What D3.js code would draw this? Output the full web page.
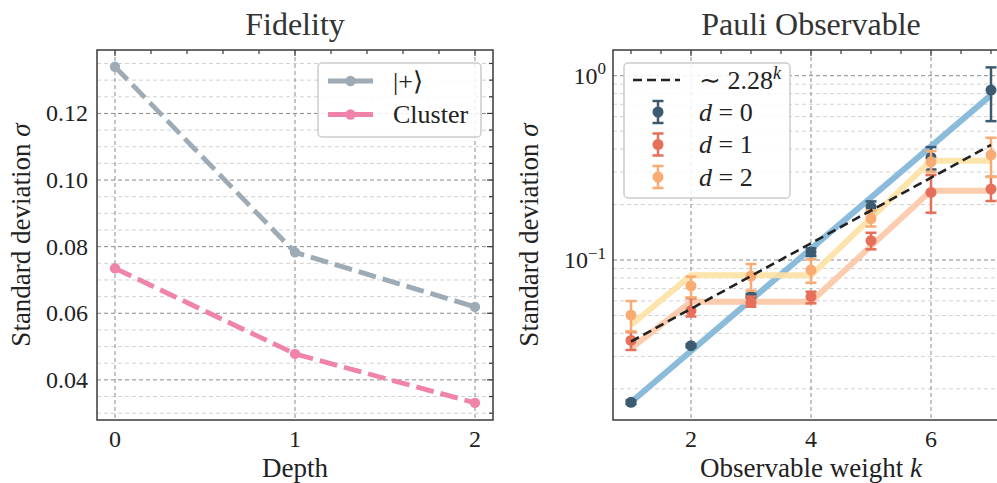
<!DOCTYPE html>
<html>
<head>
<meta charset="utf-8">
<script src="https://cdn.jsdelivr.net/npm/d3@7"></script>
<style>
  body { margin: 0; background: #fff; }
  svg { display: block; font-family: "Liberation Serif", serif; }
</style>
</head>
<body>
<script>
// --- data ---
var depths = [0, 1, 2];
var fidPlus = [0.134, 0.0783, 0.0619];
var fidCluster = [0.0735, 0.0478, 0.0331];
var fidTicks = [0.04, 0.06, 0.08, 0.10, 0.12];

var weights = [1, 2, 3, 4, 5, 6, 7];
var sigmaD0 = [0.0169, 0.0343, 0.0633, 0.1105, 0.194, 0.36, 0.836];
var lowD0 = [0.0165, 0.0337, 0.0612, 0.1051, 0.181, 0.31, 0.567];
var highD0 = [0.0173, 0.0349, 0.0655, 0.1157, 0.208, 0.41, 1.11];
var sigmaD1 = [0.0366, 0.0531, 0.0589, 0.0633, 0.1273, 0.2328, 0.2428];
var lowD1 = [0.0325, 0.0494, 0.0558, 0.0582, 0.1143, 0.1806, 0.209];
var highD1 = [0.0407, 0.062, 0.0633, 0.0673, 0.1406, 0.289, 0.283];
var sigmaD2 = [0.0503, 0.0723, 0.0819, 0.0882, 0.168, 0.341, 0.3715];
var lowD2 = [0.041, 0.0627, 0.0682, 0.0753, 0.152, 0.30, 0.2822];
var highD2 = [0.0599, 0.0812, 0.0951, 0.1009, 0.186, 0.39, 0.4607];
var stepD1 = [0.0332, 0.0594, 0.0594, 0.0594, 0.119, 0.2375, 0.2375];
var stepD2 = [0.0444, 0.0826, 0.0826, 0.0826, 0.169, 0.346, 0.346];
var fitK = [1, 7];
var fitD0 = [0.0169, 0.785];
var scalingFit = [0.0361, 0.421];
var weightTicks = [2, 4, 6];

var W = 997, H = 483;
var svg = d3.select('body').append('svg')
  .attr('width', W).attr('height', H);

var spineCol = '#3a3a3a';
var majorGrid = '#8a8a8a';
var minorGrid = '#d2d2d2';

function zip(xs, ys) { return xs.map((x, i) => [x, ys[i]]); }

// ================= left panel: Fidelity =================
var L = { left: 97, right: 493, top: 50, bottom: 420 };
var xL = d3.scaleLinear().domain([-0.1, 2.1]).range([L.left, L.right]);
var yL = d3.scaleLinear().domain([0.02795, 0.13905]).range([L.bottom, L.top]);

var gL = svg.append('g');
var minorL = d3.range(0.03, 0.1391, 0.005).filter(v => !fidTicks.some(t => Math.abs(t - v) < 1e-6));

gL.selectAll('.minor').data(minorL).enter().append('line')
  .attr('x1', L.left).attr('x2', L.right)
  .attr('y1', d => yL(d)).attr('y2', d => yL(d))
  .attr('stroke', minorGrid).attr('stroke-width', 1).attr('stroke-dasharray', '4,3');
gL.selectAll('.major').data(fidTicks).enter().append('line')
  .attr('x1', L.left).attr('x2', L.right)
  .attr('y1', d => yL(d)).attr('y2', d => yL(d))
  .attr('stroke', majorGrid).attr('stroke-width', 1).attr('stroke-dasharray', '4,3');
gL.selectAll('.vgrid').data(depths).enter().append('line')
  .attr('x1', d => xL(d)).attr('x2', d => xL(d))
  .attr('y1', L.top).attr('y2', L.bottom)
  .attr('stroke', majorGrid).attr('stroke-width', 1).attr('stroke-dasharray', '4,3');

// inward ticks top and right
gL.selectAll('.ttick').data(d3.range(0, 2.01, 0.2)).enter().append('line')
  .attr('x1', d => xL(d)).attr('x2', d => xL(d))
  .attr('y1', L.top).attr('y2', (d, i) => L.top + (i % 5 === 0 ? 6 : 4))
  .attr('stroke', spineCol).attr('stroke-width', 1.2);
gL.selectAll('.rtick').data(fidTicks.concat(minorL)).enter().append('line')
  .attr('y1', d => yL(d)).attr('y2', d => yL(d))
  .attr('x1', L.right).attr('x2', d => L.right - (fidTicks.indexOf(d) >= 0 ? 6 : 4))
  .attr('stroke', spineCol).attr('stroke-width', 1.2);

var lineL = d3.line().x(d => xL(d[0])).y(d => yL(d[1]));
var fidSeries = [
  { name: '|+\u27E9', vals: fidPlus, color: '#9eabb4' },
  { name: 'Cluster', vals: fidCluster, color: '#f083a9' }
];
fidSeries.forEach(s => {
  var pts = zip(depths, s.vals);
  gL.append('path').datum(pts).attr('d', lineL)
    .attr('fill', 'none').attr('stroke', s.color).attr('stroke-width', 4.8)
    .attr('stroke-dasharray', '18,7');
  gL.selectAll(null).data(pts).enter().append('circle')
    .attr('cx', d => xL(d[0])).attr('cy', d => yL(d[1])).attr('r', 5.2)
    .attr('fill', s.color);
});

gL.append('rect').attr('x', L.left).attr('y', L.top)
  .attr('width', L.right - L.left).attr('height', L.bottom - L.top)
  .attr('fill', 'none').attr('stroke', spineCol).attr('stroke-width', 1.5);

gL.selectAll('.ylab').data(fidTicks).enter().append('text')
  .attr('x', 88).attr('y', d => yL(d)).attr('dy', '0.33em')
  .attr('text-anchor', 'end').attr('font-size', 24).attr('fill', '#222')
  .text(d => d3.format('.2f')(d));
gL.selectAll('.xlab').data(depths).enter().append('text')
  .attr('x', d => xL(d)).attr('y', 447)
  .attr('text-anchor', 'middle').attr('font-size', 24).attr('fill', '#222')
  .text(d => d);

svg.append('text').attr('x', (L.left + L.right) / 2).attr('y', 35)
  .attr('text-anchor', 'middle').attr('font-size', 32).attr('fill', '#333').text('Fidelity');
svg.append('text').attr('x', (L.left + L.right) / 2).attr('y', 477)
  .attr('text-anchor', 'middle').attr('font-size', 27).attr('fill', '#222').text('Depth');
var yt = svg.append('text').attr('transform', 'translate(30,235) rotate(-90)')
  .attr('text-anchor', 'middle').attr('font-size', 27).attr('fill', '#222');
yt.append('tspan').text('Standard deviation ');
yt.append('tspan').attr('font-style', 'italic').text('\u03C3');

// legend left
var legL = gL.append('g');
legL.append('rect').attr('x', 318).attr('y', 63).attr('width', 163).attr('height', 74)
  .attr('rx', 4).attr('fill', 'rgba(255,255,255,0.85)').attr('stroke', '#cccccc').attr('stroke-width', 1.5);
fidSeries.forEach((s, i) => {
  var yy = 81 + i * 33.5;
  legL.append('line').attr('x1', 328).attr('x2', 373).attr('y1', yy).attr('y2', yy)
    .attr('stroke', s.color).attr('stroke-width', 4.8);
  legL.append('circle').attr('cx', 350.5).attr('cy', yy).attr('r', 5.2).attr('fill', s.color);
  legL.append('text').attr('x', 393).attr('y', yy).attr('dy', '0.33em')
    .attr('font-size', 26).attr('fill', '#222').text(s.name);
});

// ================= right panel: Pauli Observable =================
var R = { left: 613, right: 1009, top: 50, bottom: 420 };
var xR = d3.scaleLinear().domain([0.7, 7.3]).range([R.left, R.right]);
var yR = d3.scaleLog().domain([0.01355, 1.379]).range([R.bottom, R.top]);

var gR = svg.append('g');
var majorR = [0.1, 1];
var minorR = [];
[0.01, 0.1].forEach(b => { for (var m = 2; m <= 9; m++) minorR.push(b * m); });
minorR = minorR.filter(v => v > 0.01355 && v < 1.379);

gR.selectAll('.minor').data(minorR).enter().append('line')
  .attr('x1', R.left).attr('x2', R.right)
  .attr('y1', d => yR(d)).attr('y2', d => yR(d))
  .attr('stroke', minorGrid).attr('stroke-width', 1).attr('stroke-dasharray', '4,3');
gR.selectAll('.major').data(majorR).enter().append('line')
  .attr('x1', R.left).attr('x2', R.right)
  .attr('y1', d => yR(d)).attr('y2', d => yR(d))
  .attr('stroke', majorGrid).attr('stroke-width', 1).attr('stroke-dasharray', '4,3');
gR.selectAll('.vgrid').data(weightTicks).enter().append('line')
  .attr('x1', d => xR(d)).attr('x2', d => xR(d))
  .attr('y1', R.top).attr('y2', R.bottom)
  .attr('stroke', majorGrid).attr('stroke-width', 1).attr('stroke-dasharray', '4,3');
gR.selectAll('.ttick').data(d3.range(1, 7.01, 0.5)).enter().append('line')
  .attr('x1', d => xR(d)).attr('x2', d => xR(d))
  .attr('y1', R.top).attr('y2', d => R.top + (weightTicks.indexOf(d) >= 0 ? 6 : 4))
  .attr('stroke', spineCol).attr('stroke-width', 1.2);

var lineR = d3.line().x(d => xR(d[0])).y(d => yR(d[1]));

function errSeries(vals, lo, hi, color) {
  var g = gR.append('g');
  var data = weights.map((k, i) => ({ k: k, v: vals[i], lo: lo[i], hi: hi[i] }));
  g.selectAll('.eb').data(data).enter().append('line')
    .attr('x1', d => xR(d.k)).attr('x2', d => xR(d.k))
    .attr('y1', d => yR(d.lo)).attr('y2', d => yR(d.hi))
    .attr('stroke', color).attr('stroke-width', 2.5);
  ['lo', 'hi'].forEach(key => {
    g.selectAll(null).data(data).enter().append('line')
      .attr('x1', d => xR(d.k) - 5.5).attr('x2', d => xR(d.k) + 5.5)
      .attr('y1', d => yR(d[key])).attr('y2', d => yR(d[key]))
      .attr('stroke', color).attr('stroke-width', 2.5);
  });
  g.selectAll('circle').data(data).enter().append('circle')
    .attr('cx', d => xR(d.k)).attr('cy', d => yR(d.v)).attr('r', 5.5)
    .attr('fill', color);
}

var c0 = '#3c5a70', c1 = '#e56f58', c2 = '#f8ab72';

gR.append('path').datum(zip(fitK, fitD0)).attr('d', lineR)
  .attr('fill', 'none').attr('stroke', '#8bbbdb').attr('stroke-width', 6);
errSeries(sigmaD0, lowD0, highD0, c0);
gR.append('path').datum(zip(weights, stepD1)).attr('d', lineR)
  .attr('fill', 'none').attr('stroke', '#fcc6a6').attr('stroke-width', 6).attr('stroke-opacity', 0.9);
errSeries(sigmaD1, lowD1, highD1, c1);
gR.append('path').datum(zip(weights, stepD2)).attr('d', lineR)
  .attr('fill', 'none').attr('stroke', '#fde1a3').attr('stroke-width', 6).attr('stroke-opacity', 0.9);
errSeries(sigmaD2, lowD2, highD2, c2);
gR.append('path').datum(zip(fitK, scalingFit)).attr('d', lineR)
  .attr('fill', 'none').attr('stroke', '#222').attr('stroke-width', 2.6)
  .attr('stroke-dasharray', '9,5');

gR.append('rect').attr('x', R.left).attr('y', R.top)
  .attr('width', R.right - R.left).attr('height', R.bottom - R.top)
  .attr('fill', 'none').attr('stroke', spineCol).attr('stroke-width', 1.5);

// y tick labels 10^k
majorR.forEach(v => {
  var e = Math.round(Math.log10(v));
  var t = gR.append('text').attr('x', 606).attr('y', yR(v)).attr('dy', '0.33em')
    .attr('text-anchor', 'end').attr('font-size', 24).attr('fill', '#222');
  t.append('tspan').text('10');
  t.append('tspan').attr('dy', '-0.55em').attr('font-size', 17)
    .text(e < 0 ? '\u2212' + Math.abs(e) : e);
});
gR.selectAll('.xlab').data(weightTicks).enter().append('text')
  .attr('x', d => xR(d)).attr('y', 447)
  .attr('text-anchor', 'middle').attr('font-size', 24).attr('fill', '#222')
  .text(d => d);

svg.append('text').attr('x', (R.left + R.right) / 2).attr('y', 35)
  .attr('text-anchor', 'middle').attr('font-size', 32).attr('fill', '#333').text('Pauli Observable');
var xt = svg.append('text').attr('x', (R.left + R.right) / 2).attr('y', 477)
  .attr('text-anchor', 'middle').attr('font-size', 27).attr('fill', '#222');
xt.append('tspan').text('Observable weight ');
xt.append('tspan').attr('font-style', 'italic').text('k');
var yt2 = svg.append('text').attr('transform', 'translate(538,235) rotate(-90)')
  .attr('text-anchor', 'middle').attr('font-size', 27).attr('fill', '#222');
yt2.append('tspan').text('Standard deviation ');
yt2.append('tspan').attr('font-style', 'italic').text('\u03C3');

// legend right
var legR = gR.append('g');
legR.append('rect').attr('x', 624).attr('y', 63).attr('width', 166).attr('height', 135)
  .attr('rx', 4).attr('fill', 'rgba(255,255,255,0.85)').attr('stroke', '#cccccc').attr('stroke-width', 1.5);
legR.append('line').attr('x1', 633).attr('x2', 680).attr('y1', 80).attr('y2', 80)
  .attr('stroke', '#222').attr('stroke-width', 2.6).attr('stroke-dasharray', '9,5');
var ft = legR.append('text').attr('x', 699).attr('y', 80).attr('dy', '0.33em')
  .attr('font-size', 26).attr('fill', '#222');
ft.append('tspan').text('\u223C 2.28');
ft.append('tspan').attr('dy', '-0.55em').attr('font-size', 18).attr('font-style', 'italic').text('k');

[c0, c1, c2].forEach((c, i) => {
  var yy = 112 + i * 32.5;
  legR.append('line').attr('x1', 658).attr('x2', 658).attr('y1', yy - 11).attr('y2', yy + 11)
    .attr('stroke', c).attr('stroke-width', 2.5);
  [-11, 11].forEach(o => legR.append('line').attr('x1', 652.5).attr('x2', 663.5)
    .attr('y1', yy + o).attr('y2', yy + o).attr('stroke', c).attr('stroke-width', 2.5));
  legR.append('circle').attr('cx', 658).attr('cy', yy).attr('r', 5.5).attr('fill', c);
  var lt = legR.append('text').attr('x', 699).attr('y', yy).attr('dy', '0.33em')
    .attr('font-size', 26).attr('fill', '#222');
  lt.append('tspan').attr('font-style', 'italic').text('d');
  lt.append('tspan').text(' = ' + i);
});
</script>
</body>
</html>
